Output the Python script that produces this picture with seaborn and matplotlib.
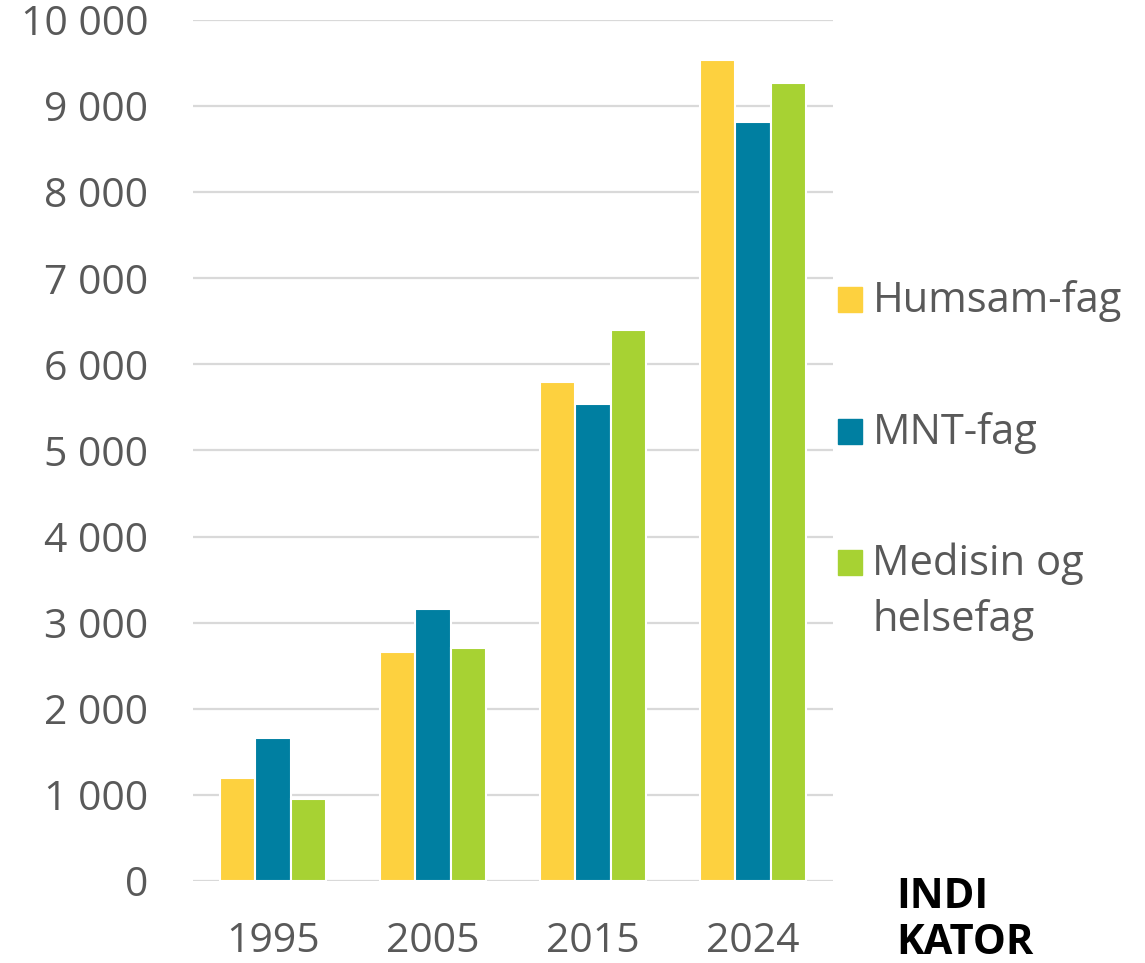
import numpy as np
import pandas as pd
import matplotlib.pyplot as plt
import matplotlib.patches as mpatches
from matplotlib.ticker import FuncFormatter
import seaborn as sns

years = ["1995", "2005", "2015", "2024"]
series = ["Humsam-fag", "MNT-fag", "Medisin og helsefag"]
humsam = [1200, 2660, 5795, 9535]
mnt = [1660, 3160, 5540, 8815]
medisin = [950, 2705, 6400, 9270]
colors = ["#FDD13F", "#007FA1", "#A7D233"]
legend_labels = ["Humsam-fag", "MNT-fag", "Medisin og\nhelsefag"]

df = pd.DataFrame({
    "year": years * 3,
    "fag": [s for s in series for _ in years],
    "value": humsam + mnt + medisin,
})

sns.set_style("white")
plt.rcParams["font.family"] = ["Open Sans", "DejaVu Sans"]
grey = "#595959"

fig = plt.figure(figsize=(11.45, 9.63), dpi=100)
ax = fig.add_axes([0.1686, 0.0852, 0.7275 - 0.1686, 0.9792 - 0.0852])

sns.barplot(data=df, x="year", y="value", hue="fag", hue_order=series,
            palette=colors, saturation=1, width=0.66, edgecolor="white",
            linewidth=1.5, legend=False, ax=ax)

ax.set_ylim(0, 10000)
ax.set_xlim(-0.5, 3.5)
ax.set_yticks(range(0, 10001, 1000))
ax.yaxis.set_major_formatter(FuncFormatter(lambda v, p: f"{v:,.0f}".replace(",", " ")))
ax.grid(axis="y", color="#d9d9d9", linewidth=1.6)
ax.set_axisbelow(True)
for s in ax.spines.values():
    s.set_visible(False)
ax.tick_params(axis="both", length=0, labelsize=29.5, labelcolor=grey)
ax.tick_params(axis="y", pad=32)
ax.tick_params(axis="x", pad=29)
ax.set_xlabel("")
ax.set_ylabel("")

# legend on the right
ys = [0.6885, 0.5515, 0.4155]
for lab, c, y in zip(legend_labels, colors, ys):
    fig.patches.append(mpatches.Rectangle((0.7315, y - 0.0125), 0.0215, 0.0255,
                                          transform=fig.transFigure, color=c))
    fig.text(0.762, y + 0.021, lab, fontsize=30, color=grey, va="top",
             ha="left", linespacing=1.42)

fig.text(0.783, 0.0895, "INDI\nKATOR", fontsize=30, fontweight="bold",
         color="black", ha="left", va="top", linespacing=1.18)

fig.savefig("out.png", dpi=100)
